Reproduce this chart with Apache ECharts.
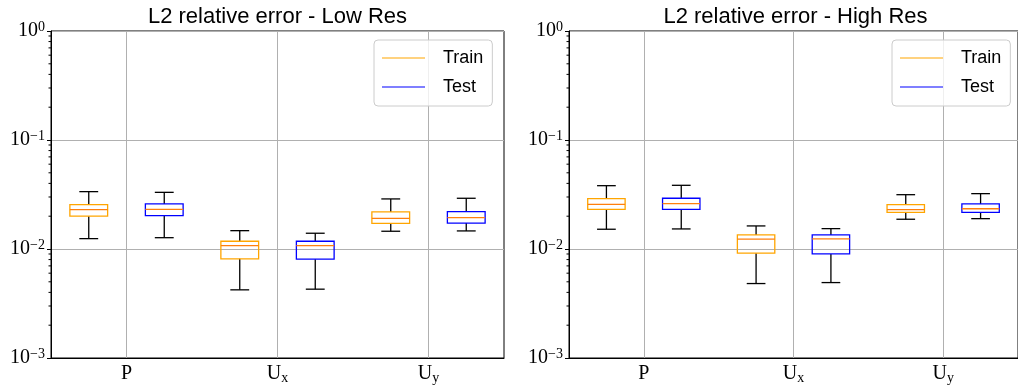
<!DOCTYPE html>
<html>
<head>
<meta charset="utf-8">
<script src="https://cdn.jsdelivr.net/npm/echarts@6/dist/echarts.min.js"></script>
<style>
html, body { margin: 0; padding: 0; background: #fff; }
#main { width: 1018px; height: 386px; }
</style>
</head>
<body>
<div id="main"></div>
<script>
var categories = ['P', 'U_x', 'U_y'];
var titles = ['L2 relative error - Low Res', 'L2 relative error - High Res'];
var minorTicks = [0.002, 0.003, 0.004, 0.005, 0.006, 0.007, 0.008, 0.009,
	0.02, 0.03, 0.04, 0.05, 0.06, 0.07, 0.08, 0.09,
	0.2, 0.3, 0.4, 0.5, 0.6, 0.7, 0.8, 0.9];

// each box: [min, Q1, median, Q3, max]
var lowTrain = [[0.01245, 0.0200, 0.0230, 0.0255, 0.0336], [0.00422, 0.00812, 0.01074, 0.01178, 0.01473], [0.01455, 0.0172, 0.0191, 0.0219, 0.0288]];
var lowTest = [[0.0127, 0.0202, 0.0231, 0.0259, 0.0331], [0.00428, 0.00806, 0.01074, 0.01178, 0.01395], [0.01465, 0.0173, 0.0194, 0.0220, 0.0292]];
var highTrain = [[0.01518, 0.0231, 0.0257, 0.0290, 0.0381], [0.00482, 0.00915, 0.0123, 0.01346, 0.01628], [0.01875, 0.0217, 0.0230, 0.0255, 0.0315]];
var highTest = [[0.01528, 0.0231, 0.0261, 0.0292, 0.0384], [0.00492, 0.00902, 0.01237, 0.01346, 0.01538], [0.01898, 0.0217, 0.0234, 0.0259, 0.0322]];

var chart = echarts.init(document.getElementById('main'));

var gridLefts = [51, 569];
var gridW = 453;
var lineIcon = 'path://M0,0L43,0L43,1.2L0,1.2Z';

function withIndex(arr) {
	return arr.map(function(d, i) { return [i].concat(d); });
}

function boxItem(offset, color) {
	return function(params, api) {
		var band = api.size([1, 0])[0];
		var w = band * 0.25;
		var cx = api.coord([api.value(0), 0.01])[0] + offset * band;
		var y = [1, 2, 3, 4, 5].map(function(i) {
			return api.coord([api.value(0), api.value(i)])[1];
		});
		var black = { stroke: '#000', lineWidth: 1.3 };
		return {
			type: 'group',
			children: [
				{ type: 'line', shape: { x1: cx, y1: y[1], x2: cx, y2: y[0] }, style: black },
				{ type: 'line', shape: { x1: cx, y1: y[3], x2: cx, y2: y[4] }, style: black },
				{ type: 'line', shape: { x1: cx - w / 4, y1: y[0], x2: cx + w / 4, y2: y[0] }, style: black },
				{ type: 'line', shape: { x1: cx - w / 4, y1: y[4], x2: cx + w / 4, y2: y[4] }, style: black },
				{ type: 'rect', shape: { x: cx - w / 2, y: y[3], width: w, height: y[1] - y[3] }, style: { fill: 'none', stroke: color, lineWidth: 1.3 } },
				{ type: 'line', shape: { x1: cx - w / 2, y1: y[2], x2: cx + w / 2, y2: y[2] }, style: { stroke: '#ff7f0e', lineWidth: 1.3 } }
			]
		};
	};
}

function boxSeries(name, data, idx, offset, color) {
	return {
		name: name,
		type: 'custom',
		xAxisIndex: idx,
		yAxisIndex: idx,
		itemStyle: { color: color },
		encode: { x: 0, y: [1, 2, 3, 4, 5] },
		renderItem: boxItem(offset, color),
		data: withIndex(data),
		clip: false,
		silent: true
	};
}

// small minor ticks on the log axis
function minorTickSeries(idx) {
	return {
		name: 'minor' + idx,
		type: 'custom',
		xAxisIndex: idx,
		yAxisIndex: idx,
		encode: { x: 0, y: 1 },
		silent: true,
		clip: false,
		z: 10,
		data: minorTicks.map(function(v) { return [0, v]; }),
		renderItem: function(params, api) {
			var band = api.size([1, 0])[0];
			var p = api.coord([0, api.value(1)]);
			var x = p[0] - band / 2;
			return { type: 'line', shape: { x1: x - 2.5, y1: p[1], x2: x, y2: p[1] }, style: { stroke: '#000', lineWidth: 1 } };
		}
	};
}

var grids = [], xAxes = [], yAxes = [], legends = [], graphics = [];
[0, 1].forEach(function(i) {
	grids.push({
		left: gridLefts[i], top: 31, width: gridW, height: 327,
		show: true, borderColor: '#000', borderWidth: 1, backgroundColor: 'transparent'
	});
	xAxes.push({
		type: 'category',
		gridIndex: i,
		data: categories,
		boundaryGap: true,
		axisLine: { lineStyle: { color: '#000', width: 1 } },
		axisTick: { alignWithLabel: true, length: 4, lineStyle: { color: '#000' } },
		splitLine: { show: true, alignWithLabel: true, lineStyle: { color: '#b0b0b0', width: 1 } },
		axisLabel: {
			margin: 5,
			color: '#000',
			formatter: function(v) {
				return v.indexOf('_') > 0 ? '{b|' + v.split('_')[0] + '}{s|' + v.split('_')[1] + '}' : '{b|' + v + '}';
			},
			rich: {
				b: { fontFamily: 'Liberation Serif', fontSize: 20, lineHeight: 22, color: '#000' },
				s: { fontFamily: 'Liberation Serif', fontSize: 14, lineHeight: 13, verticalAlign: 'bottom', color: '#000' }
			}
		}
	});
	yAxes.push({
		type: 'log',
		logBase: 10,
		gridIndex: i,
		min: 0.001,
		max: 1,
		axisLine: { show: true, lineStyle: { color: '#000', width: 1 } },
		axisTick: { show: true, length: 4, lineStyle: { color: '#000' } },
		splitLine: { show: true, lineStyle: { color: '#b0b0b0', width: 1 } },
		axisLabel: {
			margin: 6,
			color: '#000',
			formatter: function(v) {
				var e = Math.round(Math.log10(v));
				return '{b|10}{s|' + (e < 0 ? '\u2212' + (-e) : e) + '}';
			},
			rich: {
				b: { fontFamily: 'Liberation Serif', fontSize: 20, lineHeight: 22, color: '#000' },
				s: { fontFamily: 'Liberation Serif', fontSize: 14, lineHeight: 17, verticalAlign: 'top', color: '#000' }
			}
		}
	});
	legends.push({
		orient: 'vertical',
		left: gridLefts[i] + 323,
		top: 40,
		padding: [7, 9, 8, 8],
		itemGap: 7,
		itemWidth: 43,
		itemHeight: 20,
		backgroundColor: 'rgba(255,255,255,0.8)',
		borderColor: '#cccccc',
		borderWidth: 1,
		borderRadius: 4,
		textStyle: { fontFamily: 'Liberation Sans', fontSize: 18, lineHeight: 22, color: '#000', padding: [0, 0, 0, 13] },
		data: [{ name: 'Train', icon: lineIcon }, { name: 'Test', icon: lineIcon }]
	});
	graphics.push({
		type: 'text',
		x: gridLefts[i] + gridW / 2,
		y: 6,
		style: {
			text: titles[i],
			align: 'center',
			verticalAlign: 'top',
			fontFamily: 'Liberation Sans',
			fontSize: 22,
			fill: '#000'
		}
	});
});

chart.setOption({
	backgroundColor: '#fff',
	animation: false,
	grid: grids,
	xAxis: xAxes,
	yAxis: yAxes,
	legend: legends,
	graphic: graphics,
	series: [
		boxSeries('Train', lowTrain, 0, -0.25, '#ffa500'),
		boxSeries('Test', lowTest, 0, 0.25, '#0000ff'),
		boxSeries('Train', highTrain, 1, -0.25, '#ffa500'),
		boxSeries('Test', highTest, 1, 0.25, '#0000ff'),
		minorTickSeries(0),
		minorTickSeries(1)
	]
});
</script>
</body>
</html>
